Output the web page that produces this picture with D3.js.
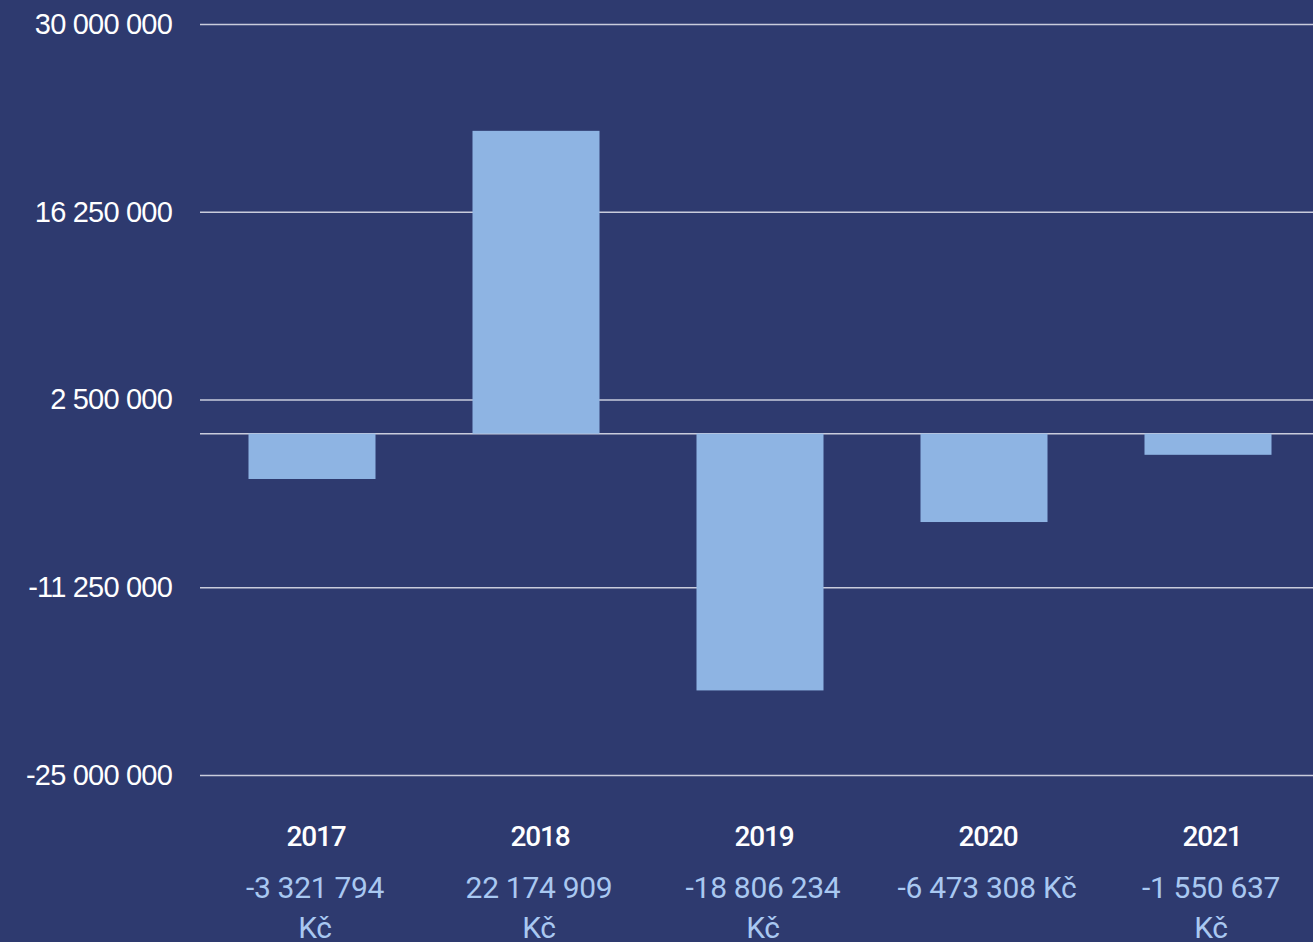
<!DOCTYPE html>
<html>
<head>
<meta charset="utf-8">
<script src="https://cdn.jsdelivr.net/npm/d3@7"></script>
<style>
  html, body { margin: 0; padding: 0; background: #2e3a6f; overflow: hidden; }
  svg { display: block; font-family: Roboto, "Noto Sans", sans-serif; }
</style>
</head>
<body>
<div id="chart"></div>
<script>
// chart data
const years = ["2017", "2018", "2019", "2020", "2021"]
const values = [-3321794, 22174909, -18806234, -6473308, -1550637]
// whether the value label breaks onto a second line before "Kč"
const wrapped = [true, true, true, false, true]
const yTicks = [30000000, 16250000, 2500000, -11250000, -25000000]

const width = 1313
const height = 942
const margin = {left: 200, top: 24, bottom: 167}

// czech style numbers: space as thousands separator
const locale = d3.formatLocale({decimal: ",", thousands: " ", grouping: [3], currency: ["", " Kč"], minus: "-"})
const fmt = locale.format(",d")

const svg = d3.select("#chart")
  .append("svg")
  .attr("width", width)
  .attr("height", height)

svg.append("rect")
  .attr("width", width)
  .attr("height", height)
  .attr("fill", "#2e3a6f")

const x = d3.scaleBand()
  .domain(years)
  .range([margin.left, margin.left + 1120])
  .paddingInner(0.433)
  .paddingOuter(0.2165)

const y = d3.scaleLinear()
  .domain([-25000000, 30000000])
  .range([height - margin.bottom, margin.top])

// y axis with gridlines
const yAxis = svg.append("g")
  .attr("transform", "translate(" + margin.left + ",0)")
  .call(d3.axisLeft(y)
    .tickValues(yTicks)
    .tickFormat(fmt)
    .tickSizeInner(-(width - margin.left))
    .tickSizeOuter(0)
    .tickPadding(28))

yAxis.select(".domain").remove()
yAxis.selectAll(".tick line")
  .attr("stroke", "#c9ccdc")
  .attr("stroke-width", 1.5)
yAxis.selectAll(".tick text")
  .attr("fill", "#ffffff")
  .attr("font-size", "29px")
  .attr("font-weight", 500)
  .attr("letter-spacing", "-0.8px")

// zero line
svg.append("line")
  .attr("x1", margin.left)
  .attr("x2", width)
  .attr("y1", y(0))
  .attr("y2", y(0))
  .attr("stroke", "#c9ccdc")
  .attr("stroke-width", 1.5)

// bars
svg.append("g")
  .selectAll("rect")
  .data(values)
  .enter()
  .append("rect")
  .attr("x", function(d, i) { return x(years[i]) })
  .attr("width", x.bandwidth())
  .attr("y", function(d) { return y(Math.max(0, d)) })
  .attr("height", function(d) { return Math.abs(y(d) - y(0)) })
  .attr("fill", "#8eb4e3")

// year labels
svg.append("g")
  .selectAll("text")
  .data(years)
  .enter()
  .append("text")
  .attr("x", function(d) { return x(d) + x.bandwidth() / 2 + 4 })
  .attr("y", 846)
  .attr("text-anchor", "middle")
  .attr("fill", "#ffffff")
  .attr("font-size", "28px")
  .attr("font-weight", 500)
  .attr("letter-spacing", "-1.2px")
  .text(function(d) { return d })

// value labels
const valueLabels = svg.append("g")
  .selectAll("text")
  .data(values)
  .enter()
  .append("text")
  .attr("text-anchor", "middle")
  .attr("fill", "#a9c8f1")
  .attr("font-size", "30px")
  .attr("letter-spacing", "-0.3px")

valueLabels.each(function(d, i) {
  const cx = x(years[i]) + x.bandwidth() / 2 + 3
  const t = d3.select(this)
  const lines = wrapped[i] ? [fmt(d), "Kč"] : [fmt(d) + " Kč"]
  lines.forEach(function(line, j) {
    t.append("tspan")
      .attr("x", cx)
      .attr("y", 898 + j * 40)
      .text(line)
  })
})
</script>
</body>
</html>
